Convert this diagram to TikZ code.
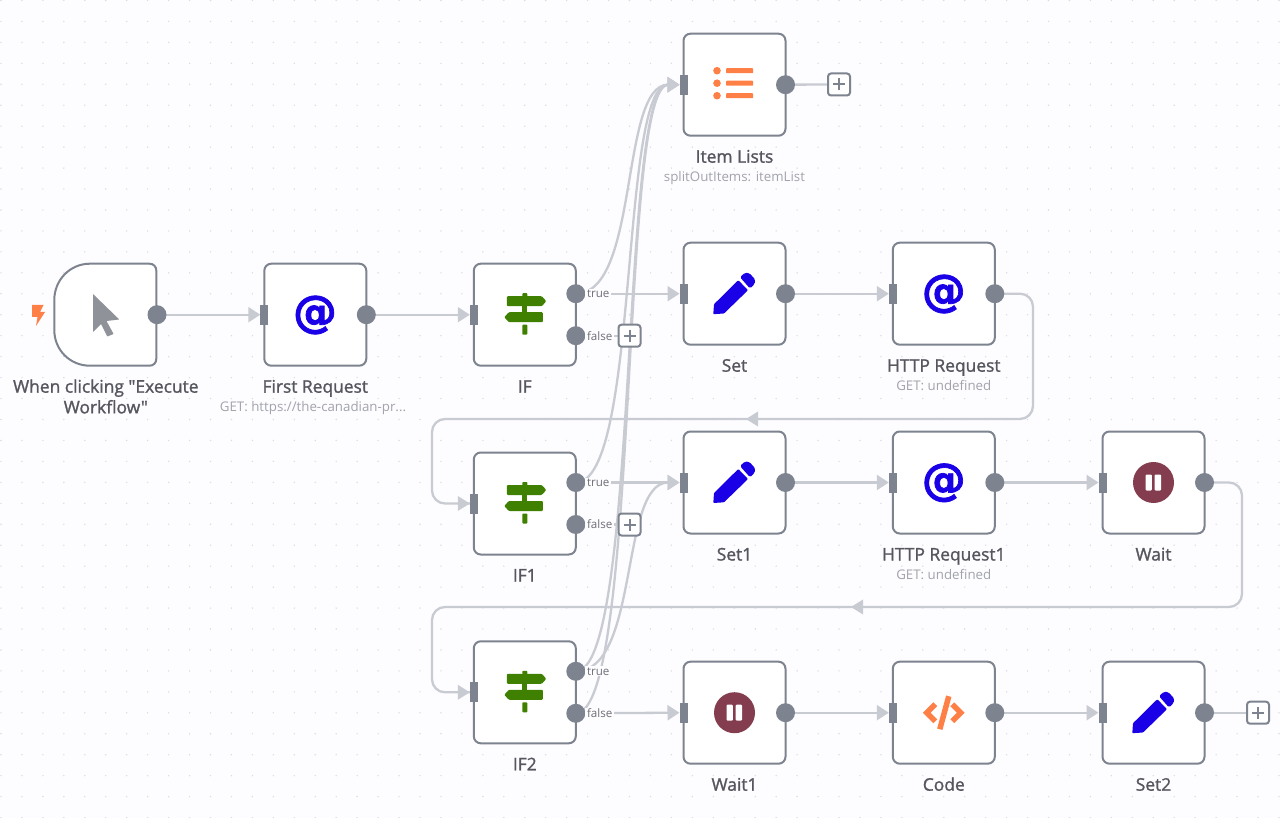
\documentclass[tikz,border=0pt]{standalone}
\usepackage{fontspec}
\setmainfont{Open Sans}
\newfontfamily\titlefont[FakeBold=1.3]{Open Sans}
\newfontfamily\atfont[FakeBold=1.6]{DejaVu Sans}
\usetikzlibrary{arrows.meta}
\definecolor{pagebg}{HTML}{FDFCFF}
\definecolor{griddot}{HTML}{DCDCE3}
\definecolor{wirec}{HTML}{C8CBD2}
\definecolor{edgec}{HTML}{7D838F}
\definecolor{titlec}{HTML}{55565E}
\definecolor{subc}{HTML}{A2A4AB}
\definecolor{blueicon}{HTML}{1A00E6}
\definecolor{orangeicon}{HTML}{FF8047}
\definecolor{greenicon}{HTML}{3F8000}
\definecolor{waitc}{HTML}{833D4E}
\definecolor{pointerc}{HTML}{8F9298}
\pgfdeclarelayer{gridlayer}
\pgfdeclarelayer{wirelayer}
\pgfsetlayers{gridlayer,wirelayer,main}
\tikzset{
  box/.style={draw=edgec,line width=2pt,fill=white,rounded corners=7pt,minimum width=102pt,minimum height=102pt,inner sep=0pt,outer sep=0pt},
  tribox/.style={minimum width=102pt,minimum height=102pt,inner sep=0pt,outer sep=0pt},
  title/.style={font=\titlefont\fontsize{17.4}{20.7}\selectfont,text=titlec,align=center,inner sep=0pt},
  subtitle/.style={font=\fontsize{13.3}{15}\selectfont,text=subc,inner sep=0pt,anchor=base},
  outport/.style={circle,fill=edgec,minimum size=19pt,inner sep=0pt,outer sep=0pt},
  inport/.style={rectangle,fill=edgec,minimum width=8pt,minimum height=20pt,inner sep=0pt,outer sep=0pt},
  branch/.style={font=\fontsize{11.6}{13}\selectfont,text=titlec!85,fill=pagebg,inner xsep=2pt,inner ysep=1pt,anchor=west},
  addbox/.style={draw=edgec,line width=2pt,fill=white,rounded corners=3pt,minimum size=22pt,inner sep=0pt,outer sep=0pt,
    path picture={\draw[edgec,line width=2pt] (path picture bounding box.center) ++(-6pt,0) -- ++(12pt,0) (path picture bounding box.center) ++(0,-6pt) -- ++(0,12pt);}},
  wire/.style={draw=wirec,line width=2.3pt},
  arrowwire/.style={wire,-{Triangle[length=12pt,width=15pt]}},
  atsign/.style={font=\atfont\bfseries\fontsize{44}{44}\selectfont,text=blueicon,inner sep=0pt},
}
\newcommand{\flownode}[4]{%
  \node[box] (#1) at (#2,#3) {};
  \node[title,anchor=base] (#1-label) at (#2,#3+78) {#4};
  \node[inport] (#1-in) at (#1.west) {};
  \node[outport] (#1-out) at (#1.east) {};
}
\newcommand{\ifnode}[4]{%
  \node[box] (#1) at (#2,#3) {};
  \node[title,anchor=base] (#1-label) at (#2,#3+78) {#4};
  \node[inport] (#1-in) at (#1.west) {};
  \node[outport] (#1-true) at (#2+51,#3-21) {};
  \node[outport] (#1-false) at (#2+51,#3+21) {};
  \node[branch] (#1-tl) at (#2+60,#3-21) {true};
  \node[branch] (#1-fl) at (#2+60,#3+21) {false};
  \begin{scope}[shift={(#1.center)}]
    \fill[greenicon,rounded corners=1pt] (-18,-18.5) -- (17,-18.5) -- (21.5,-13.5) -- (17,-8.5) -- (-18,-8.5) -- cycle;
    \fill[greenicon,rounded corners=1pt] (18,-2.5) -- (-16,-2.5) -- (-20.5,2.5) -- (-16,7.5) -- (18,7.5) -- cycle;
    \fill[greenicon,rounded corners=0.8pt] (-2.5,-21.5) rectangle (2.5,-18);
    \fill[greenicon] (-2.5,-9) rectangle (2.5,-2);
    \fill[greenicon,rounded corners=0.8pt] (-2.5,10) rectangle (2.5,20);
  \end{scope}
}
\newcommand{\pencilicon}[1]{%
  \begin{scope}[shift={(#1.center)}]
    \fill[blueicon,rounded corners=0.8pt] (-20.5,10.5) -- (3.8,-13.5) -- (13.5,-3.5) -- (-10.5,19.8) -- (-21.2,20.5) -- cycle;
    \fill[blueicon,rounded corners=1.5pt] (5.5,-16.5) -- (10.5,-21) -- (15,-20.5) -- (20.8,-14) -- (20,-9.5) -- (15.5,-5.2) -- cycle;
  \end{scope}
}
\newcommand{\waiticon}[1]{%
  \begin{scope}[shift={(#1.center)}]
    \fill[waitc] (0,0) circle (20.5);
    \fill[white,rounded corners=1pt] (-8,-8) rectangle (-1.7,8);
    \fill[white,rounded corners=1pt] (1.2,-8) rectangle (7.5,8);
  \end{scope}
}
\begin{document}
\begin{tikzpicture}[x=1pt,y=-1pt]
\useasboundingbox (0,0) rectangle (1280,818);
\begin{pgfonlayer}{gridlayer}
  \fill[pagebg] (0,0) rectangle (1280,818);
  \foreach \i in {0,...,61}{\foreach \j in {0,...,39}{
    \fill[griddot] ({1+20.95*\i},{0.5+20.95*\j}) circle (0.8);
  }}
\end{pgfonlayer}

% nodes
\node[tribox] (trig) at (105.3,314.7) {};
\draw[draw=edgec,line width=2pt,fill=white,rounded corners=0pt]
  (149.3,263.7) -- (90,263.7) .. controls (70,263.7) and (54.3,280) .. (54.3,300)
  -- (54.3,330) .. controls (54.3,350) and (70,365.7) .. (90,365.7) -- (149.3,365.7)
  .. controls (153.5,365.7) and (156.3,363) .. (156.3,358.7) -- (156.3,270.7)
  .. controls (156.3,266.5) and (153.5,263.7) .. (149.3,263.7) -- cycle;
\node[title] (trig-label) at (105.8,396.5) {When clicking "Execute\\Workflow"};
\node[outport] (trig-out) at (157,314.7) {};

\flownode{first}{315.3}{314.7}{First Request}
\ifnode{ifa}{524.8}{314.7}{IF}
\flownode{items}{734.5}{84.7}{Item Lists}
\flownode{seta}{734.5}{293.7}{Set}
\flownode{http}{943.8}{293.7}{HTTP Request}
\ifnode{ifb}{524.8}{503.5}{IF1}
\flownode{setb}{734.5}{482.5}{Set1}
\flownode{httpb}{943.8}{482.5}{HTTP Request1}
\flownode{waita}{1153.5}{482.5}{Wait}
\ifnode{ifc}{524.8}{692.3}{IF2}
\flownode{waitb}{734.5}{712.7}{Wait1}
\flownode{code}{943.8}{712.7}{Code}
\flownode{setc}{1153.5}{712.7}{Set2}

\node[subtitle] (first-sub) at (313,411.2) {GET: https://the-canadian-pr...};
\node[subtitle] (items-sub) at (734.5,181.2) {splitOutItems: itemList};
\node[subtitle] (http-sub) at (943.8,390.2) {GET: undefined};
\node[subtitle] (httpb-sub) at (943.8,579) {GET: undefined};

\node[addbox] (addifa) at (629.5,335.7) {};
\node[addbox] (addifb) at (629.5,524.5) {};
\node[addbox] (additems) at (839,84.5) {};
\node[addbox] (addset) at (1258,712.7) {};

% icons
\node[atsign] (first-at) at (315,315) {@};
\node[atsign] (http-at) at (943.8,294) {@};
\node[atsign] (httpb-at) at (943.8,482.8) {@};
\pencilicon{seta}
\pencilicon{setb}
\pencilicon{setc}
\waiticon{waita}
\waiticon{waitb}
\fill[pointerc,rounded corners=0.5pt] (93,294) -- (119.3,319.5) -- (106.5,321) -- (113.6,334) -- (107.3,336.5) -- (101,324) -- (93,332) -- cycle;
\fill[orangeicon] (32,305) -- (43.5,305) -- (40,312) -- (45,312) -- (36,326) -- (37.5,317) -- (32,317) -- cycle;
\begin{scope}[shift={(items.center)}]
  \foreach \yy in {-14,-1.5,11}{
    \fill[orangeicon] (-17.5,\yy) circle (3.8);
    \fill[orangeicon,rounded corners=0.8pt] (-8.5,\yy-2.5) rectangle (18.7,\yy+2.5);
  }
\end{scope}
\begin{scope}[shift={(code.center)}]
  \draw[orangeicon,line width=5.5pt,line join=miter] (-8.5,-8.5) -- (-17,0) -- (-8.5,8.5);
  \draw[orangeicon,line width=5.5pt,line join=miter] (8.5,-8.5) -- (17,0) -- (8.5,8.5);
  \draw[orangeicon,line width=5.5pt] (5,-16.5) -- (-4,16.5);
\end{scope}

% connectors
\begin{pgfonlayer}{wirelayer}
  \draw[arrowwire] (trig-out.center) -- (first-in.west);
  \draw[arrowwire] (first-out.center) -- (ifa-in.west);
  \draw[arrowwire] (ifa-true.center) -- (seta-in.west |- ifa-true);
  \draw[arrowwire] (seta-out.center) -- (http-in.west);
  \draw[arrowwire] (setb-out.center) -- (httpb-in.west);
  \draw[arrowwire] (httpb-out.center) -- (waita-in.west);
  \draw[arrowwire] (ifc-false.center) -- (waitb-in.west);
  \draw[arrowwire] (waitb-out.center) -- (code-in.west);
  \draw[arrowwire] (code-out.center) -- (setc-in.west);
  \draw[arrowwire] (ifb-true.center) -- (setb-in.west);
  \draw[wire] (items-out.center) -- (additems.west);
  \draw[wire] (setc-out.center) -- (addset.west);
  \draw[wire] (ifa-false.center) -- (addifa.west);
  \draw[wire] (ifb-false.center) -- (addifb.west);
  % into Item Lists
  \draw[arrowwire] (ifa-true.center) .. controls +(64,0) and +(-60,0) .. (items-in.west);
  \draw[arrowwire] (ifb-true.center) .. controls +(64,0) and +(-60,0) .. (items-in.west);
  \draw[arrowwire] (ifc-true.center) .. controls +(64,0) and +(-60,0) .. (items-in.west);
  \draw[arrowwire] (ifc-false.center) .. controls +(64,0) and +(-60,0) .. (items-in.west);
  % into Set1
  \draw[arrowwire] (ifc-true.center) .. controls +(64,0) and +(-60,0) .. (setb-in.west);
  % feedback loops
  \draw[wire,rounded corners=13pt] (http-out.center) -- (1033,293.7) -- (1033,419) -- (432,419) -- (432,503.5) -- (ifb-in.west);
  \draw[wire,rounded corners=13pt] (waita-out.center) -- (1242,482.5) -- (1242,607) -- (432,607) -- (432,692.3) -- (ifc-in.west);
  \node[coordinate] (loopa) at (752,419) {};
  \node[coordinate] (loopb) at (857,607) {};
  \fill[wirec] (loopa) ++(-6,0) -- ++(12,-7.5) -- ++(0,15) -- cycle;
  \fill[wirec] (loopb) ++(-6,0) -- ++(12,-7.5) -- ++(0,15) -- cycle;
  \fill[wirec] (ifb-in.west) -- ++(-12,-7.5) -- ++(0,15) -- cycle;
  \fill[wirec] (ifc-in.west) -- ++(-12,-7.5) -- ++(0,15) -- cycle;
\end{pgfonlayer}
\end{tikzpicture}
\end{document}
